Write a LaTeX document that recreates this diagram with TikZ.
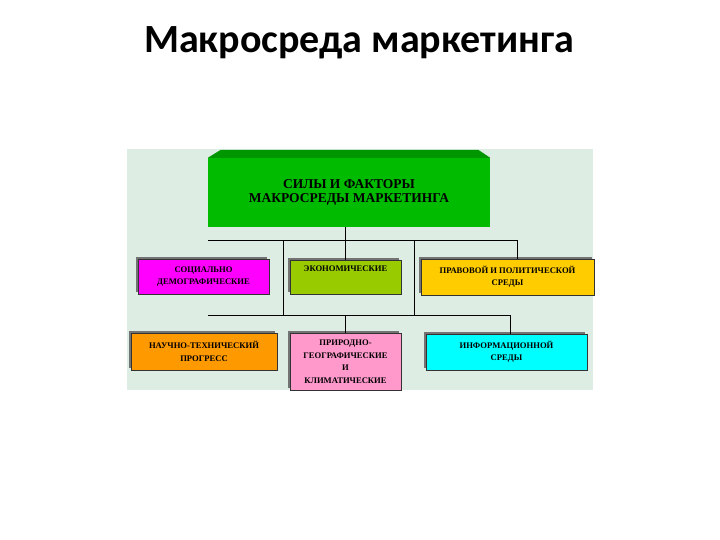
\documentclass[tikz,border=0pt]{standalone}
\usepackage{fontspec}
\setmainfont{Liberation Serif}
\newfontfamily\titlefont{Carlito}
\usetikzlibrary{shadows}

\definecolor{panelbg}{RGB}{222,237,228}
\definecolor{headgreen}{RGB}{0,187,0}
\definecolor{bevelgreen}{RGB}{0,150,0}
\definecolor{socmagenta}{RGB}{255,0,255}
\definecolor{econgreen}{RGB}{153,204,0}
\definecolor{lawyellow}{RGB}{255,204,0}
\definecolor{sciorange}{RGB}{255,153,0}
\definecolor{natpink}{RGB}{255,153,204}
\definecolor{infocyan}{RGB}{0,255,255}

\begin{document}
\begin{tikzpicture}[
        x=1pt, y=-1pt,
        box/.style={draw=black!80, line width=0.6pt, rectangle, align=center, inner sep=2pt,
            font=\bfseries\fontsize{8.6}{12.5}\selectfont,
            drop shadow={shadow xshift=-2pt, shadow yshift=2pt, fill=black!55, opacity=1}},
        headbox/.style={rectangle, fill=headgreen, align=center, font=\bfseries\fontsize{13.5}{14.5}\selectfont},
        wire/.style={draw=black, line width=0.9pt}
    ]
    \useasboundingbox[fill=white] (0,0) rectangle (720,540);

    % Title and panel
    \node[font=\titlefont\bfseries\fontsize{40}{46}\selectfont] (title) at (359,43) {Макросреда маркетинга};
    \node[fill=panelbg, minimum width=466pt, minimum height=241pt, inner sep=0pt] (panel) at (360,269.5) {};

    % Head box
    \node[headbox, minimum width=282pt, minimum height=69pt] (head) at (349,192.5)
        {СИЛЫ И ФАКТОРЫ\\МАКРОСРЕДЫ МАРКЕТИНГА};
    \fill[bevelgreen] (head.north west) -- ([xshift=13pt, yshift=8pt]head.north west)
        -- ([xshift=-12pt, yshift=8pt]head.north east) -- (head.north east) -- cycle;

    % Factor boxes
    \node[box, fill=socmagenta, minimum width=131pt, minimum height=35pt] (socdem) at (203.5,276.5)
        {СОЦИАЛЬНО\\ДЕМОГРАФИЧЕСКИЕ};
    \node[box, fill=econgreen, minimum width=111pt, minimum height=34pt, text depth=16pt] (econ) at (345.5,277)
        {ЭКОНОМИЧЕСКИЕ};
    \node[box, fill=lawyellow, minimum width=173pt, minimum height=36pt] (law) at (507.5,277)
        {ПРАВОВОЙ И ПОЛИТИЧЕСКОЙ\\СРЕДЫ};
    \node[box, fill=sciorange, minimum width=146pt, minimum height=37pt] (science) at (204,351.5)
        {НАУЧНО-ТЕХНИЧЕСКИЙ\\ПРОГРЕСС};
    \node[box, fill=natpink, minimum width=111pt, minimum height=57pt] (nature) at (345.5,361.5)
        {ПРИРОДНО-\\ГЕОГРАФИЧЕСКИЕ\\И\\КЛИМАТИЧЕСКИЕ};
    \node[box, fill=infocyan, minimum width=161pt, minimum height=36pt] (info) at (506.5,352)
        {ИНФОРМАЦИОННОЙ\\СРЕДЫ};

    % Bus lines
    \coordinate (busA) at (208,240);
    \coordinate (busAend) at (517,240);
    \coordinate (busB) at (208,315);
    \coordinate (busBend) at (510,315);
    \coordinate (riserL) at (283,240);
    \coordinate (riserR) at (414,240);

    \draw[wire] (econ.north |- head.south) -- (econ.north);
    \draw[wire] (busA) -- (busAend) -- (busAend |- law.north);
    \draw[wire] (riserL) -- (riserL |- busB);
    \draw[wire] (riserR) -- (riserR |- busB);
    \draw[wire] (busB) -- (busBend) -- (busBend |- info.north);
    \draw[wire] (nature.north |- busB) -- (nature.north);
\end{tikzpicture}
\end{document}
